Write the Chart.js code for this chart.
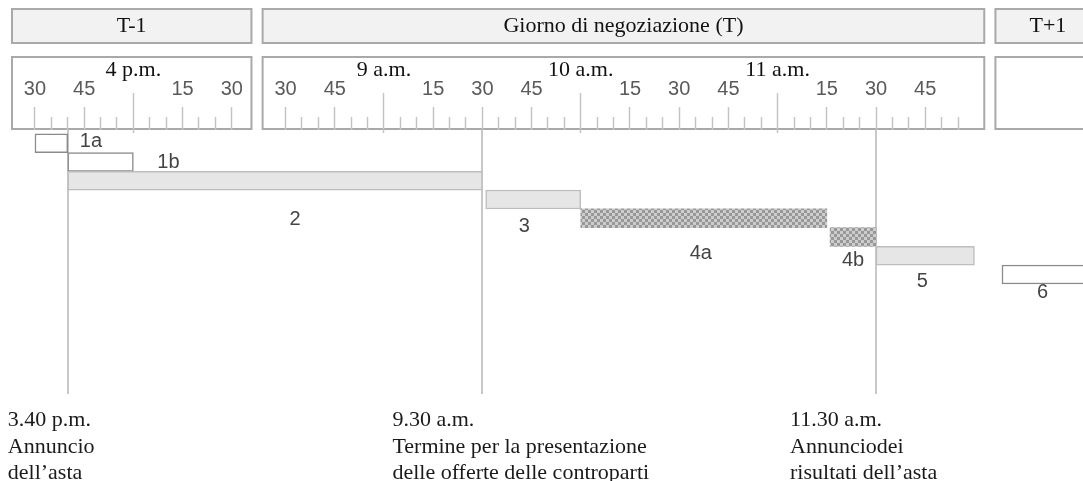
<!DOCTYPE html>
<html>
<head>
<meta charset="utf-8">
<script src="https://cdn.jsdelivr.net/npm/chart.js@4.4.1/dist/chart.umd.min.js"></script>
<style>
  html, body { margin: 0; background: #fff; }
  #wrap { width: 1083px; height: 481px; }
</style>
</head>
<body>
<div id="wrap"><canvas id="timeline"></canvas></div>
<script>
// days shown as panels on the time line
var dayNames  = ['T-1', 'T', 'T+1'];
var dayTitles = ['T-1', 'Giorno di negoziazione (T)', 'T+1'];
var dayFrom   = ['15:23', '8:23', '8:28'];
var dayTo     = ['16:36', '12:03', '9:00'];

// auction steps
var steps     = ['1a', '1b', '2', '3', '4a', '4b', '5', '6'];
var stepStart = ['T-1 15:30', 'T-1 15:40', 'T-1 15:40', 'T 9:31', 'T 10:00', 'T 11:16', 'T 11:30', 'T+1 8:30'];
var stepEnd   = ['T-1 15:40', 'T-1 16:00', 'T 9:30', 'T 10:00', 'T 11:15', 'T 11:30', 'T 12:00', 'T+1 9:00'];

// ruler ticks
var hourTicks     = ['T-1 16:00', 'T 9:00', 'T 10:00', 'T 11:00'];
var hourLabels    = ['4 p.m.', '9 a.m.', '10 a.m.', '11 a.m.'];
var quarterTicks  = ['T-1 15:30', 'T-1 15:45', 'T-1 16:15', 'T-1 16:30',
                     'T 8:30', 'T 8:45', 'T 9:15', 'T 9:30', 'T 9:45', 'T 10:15',
                     'T 10:30', 'T 10:45', 'T 11:15', 'T 11:30', 'T 11:45'];
var quarterLabels = ['30', '45', '15', '30',
                     '30', '45', '15', '30', '45', '15', '30', '45', '15', '30', '45'];
var minorFrom = ['T-1 15:30', 'T 8:30'];
var minorTo   = ['T-1 16:30', 'T 11:55'];
var minorStep = 5;

// key moments
var eventTimes = ['T-1 15:40', 'T 9:30', 'T 11:30'];
var eventTexts = [
  ['3.40 p.m.', 'Annuncio', 'dell\u2019asta'],
  ['9.30 a.m.', 'Termine per la presentazione', 'delle offerte delle controparti'],
  ['11.30 a.m.', 'Annunciodei', 'risultati dell\u2019asta']
];

// layout bits
var PANEL_GAP = 3.4;       // minutes of blank between two day panels
var X_MAX = 326.5;
var RULER_Y = -0.71;       // ruler baseline, in row units
var labelLayout = [
  {side: 'right', dx: 12, dy: -2},
  {side: 'right', dx: 24, dy: 0},
  {side: 'below', dx: 20, dy: 39},
  {side: 'below', dx: -9, dy: 27},
  {side: 'below', dx: -3, dy: 35},
  {side: 'below', dx: 0, dy: 23},
  {side: 'below', dx: -3, dy: 26},
  {side: 'below', dx: 0, dy: 18}
];
var eventDx = [-60, -90, -86];

function mins(hm) {
  var p = hm.split(':');
  return (+p[0]) * 60 + (+p[1]);
}

var dayOffset = [];
var acc = 0;
dayNames.forEach(function (d, i) {
  dayOffset[i] = acc;
  acc += mins(dayTo[i]) - mins(dayFrom[i]) + PANEL_GAP;
});

function at(day, m) {
  return dayOffset[day] + m - mins(dayFrom[day]);
}
function pos(s) {
  var p = s.split(' ');
  return at(dayNames.indexOf(p[0]), mins(p[1]));
}

var minorTicks = [];
minorFrom.forEach(function (f, i) {
  var day = dayNames.indexOf(f.split(' ')[0]);
  var end = mins(minorTo[i].split(' ')[1]);
  for (var m = mins(f.split(' ')[1]); m <= end; m += minorStep) {
    if (m % 15 !== 0) minorTicks.push(at(day, m));
  }
});

function checker() {
  var c = document.createElement('canvas');
  c.width = 6; c.height = 6;
  var g = c.getContext('2d');
  g.fillStyle = '#cdcdcd';
  g.fillRect(0, 0, 6, 6);
  g.fillStyle = '#989898';
  g.fillRect(0, 0, 3, 3);
  g.fillRect(3, 3, 3, 3);
  return g.createPattern(c, 'repeat');
}
var hatch = checker();

// ticks hang down from the axis line, so each axis sits at the top of its ticks
function rulerAxis(values, top, len, opts) {
  return {
    axis: 'x',
    type: 'linear',
    min: 0,
    max: X_MAX,
    position: {y: top},
    afterBuildTicks: function (a) {
      a.ticks = values.map(function (v) { return {value: v}; });
    },
    grid: {drawOnChartArea: false, tickLength: len, tickColor: '#c4c4c4', tickWidth: 1.5},
    border: {display: false},
    ticks: opts
  };
}

var panels = {
  id: 'panels',
  beforeDraw: function (chart) {
    var c = chart.ctx, x = chart.scales.x, y = chart.scales.y;
    c.save();
    c.fillStyle = '#fff';
    c.fillRect(0, 0, chart.width, chart.height);
    dayNames.forEach(function (d, i) {
      var l = x.getPixelForValue(dayOffset[i]);
      var r = x.getPixelForValue(dayOffset[i] + mins(dayTo[i]) - mins(dayFrom[i]));
      c.lineWidth = 2;
      c.strokeStyle = '#a9a9a9';
      c.fillStyle = '#f2f2f2';
      c.fillRect(l, 9, r - l, 34);
      c.strokeRect(l, 9, r - l, 34);
      c.fillStyle = '#fff';
      c.fillRect(l, 57, r - l, 72);
      c.strokeRect(l, 57, r - l, 72);
      c.fillStyle = '#111';
      c.font = '22px "Liberation Serif"';
      c.textAlign = 'center';
      c.textBaseline = 'middle';
      c.fillText(dayTitles[i], (l + r) / 2, 26);
    });
    c.strokeStyle = '#c8c8c8';
    c.lineWidth = 2;
    eventTimes.forEach(function (t) {
      var px = Math.round(x.getPixelForValue(pos(t)));
      c.beginPath();
      c.moveTo(px, y.getPixelForValue(RULER_Y));
      c.lineTo(px, 394);
      c.stroke();
    });
    c.restore();
  },
  afterDraw: function (chart) {
    var c = chart.ctx, x = chart.scales.x;
    var area = chart.chartArea;
    c.save();
    c.font = '20px "Liberation Sans"';
    c.fillStyle = '#444';
    c.textBaseline = 'middle';
    chart.getDatasetMeta(0).data.forEach(function (bar, i) {
      var lay = labelLayout[i];
      var left = Math.min(bar.x, bar.base);
      var right = Math.min(Math.max(bar.x, bar.base), area.right);
      if (lay.side === 'right') {
        c.textAlign = 'left';
        c.fillText(steps[i], right + lay.dx, bar.y + lay.dy);
      } else {
        c.textAlign = 'center';
        c.fillText(steps[i], (left + right) / 2 + lay.dx, bar.y + lay.dy);
      }
    });
    c.font = '22px "Liberation Serif"';
    c.fillStyle = '#1a1a1a';
    c.textAlign = 'left';
    c.textBaseline = 'alphabetic';
    eventTimes.forEach(function (t, i) {
      var px = x.getPixelForValue(pos(t)) + eventDx[i];
      eventTexts[i].forEach(function (line, j) {
        c.fillText(line, px, 426 + j * 26.5);
      });
    });
    c.restore();
  }
};

var ctx = document.getElementById('timeline').getContext('2d');

var timeline = new Chart(ctx, {
  type: 'bar',
  data: {
    labels: steps,
    datasets: [{
      data: steps.map(function (s, i) {
        return {y: i, x: [pos(stepStart[i]), pos(stepEnd[i])]};
      }),
      backgroundColor: ['#fff', '#fff', '#e6e6e6', '#e6e6e6', hatch, hatch, '#e6e6e6', '#fff'],
      borderColor: ['#8a8a8a', '#8a8a8a', '#bdbdbd', '#bdbdbd', '#b0b0b0', '#b0b0b0', '#bdbdbd', '#8a8a8a'],
      borderWidth: [1.5, 1.5, 1.5, 1.5, 0, 0, 1.5, 1.5],
      borderSkipped: false,
      barThickness: 19
    }]
  },
  options: {
    indexAxis: 'y',
    responsive: true,
    maintainAspectRatio: false,
    animation: false,
    layout: {padding: {left: 12, right: 0, top: 0, bottom: 0}},
    plugins: {legend: {display: false}, tooltip: {enabled: false}},
    scales: {
      x: {type: 'linear', min: 0, max: X_MAX, display: false},
      y: {type: 'linear', reverse: true, offset: false, min: -7.64, max: 18.01, display: false},
      minor: rulerAxis(minorTicks, -1.40, 13, {display: false}),
      quarter: rulerAxis(quarterTicks.map(pos), -1.94, 23, {
        autoSkip: false, maxRotation: 0, padding: -52,
        color: '#5a5a5a', font: {family: '"Liberation Sans"', size: 20},
        callback: function (v, i) { return quarterLabels[i]; }
      }),
      hour: rulerAxis(hourTicks.map(pos), -2.68, 40, {
        autoSkip: false, maxRotation: 0, padding: -76,
        color: '#111', font: {family: '"Liberation Serif"', size: 22},
        callback: function (v, i) { return hourLabels[i]; }
      })
    }
  },
  plugins: [panels]
});
</script>
</body>
</html>
